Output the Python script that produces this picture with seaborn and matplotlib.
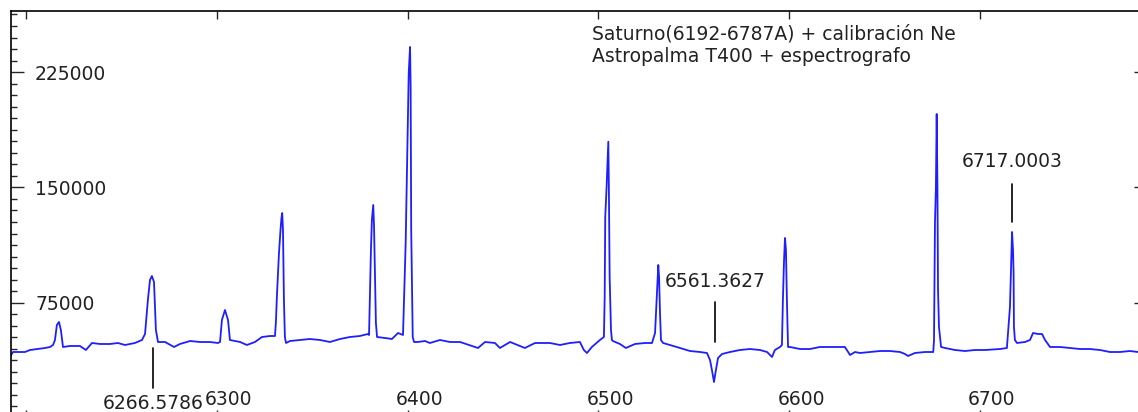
import matplotlib
matplotlib.use("Agg")
import matplotlib.pyplot as plt
import matplotlib.transforms as mtransforms
from matplotlib.ticker import MultipleLocator
import seaborn as sns
import pandas as pd

# -------------------------------
# Data (wavelength in A, counts)
# -------------------------------
wavelength = [
    6191.6, 6193.2, 6199.5, 6202.1, 6210.0, 6212.6, 6214.2, 6215.2, 6216.2, 6217.3,
    6218.3, 6219.4, 6223.1, 6228.3, 6231.4, 6234.6, 6238.8, 6244.0, 6248.2, 6251.9,
    6257.1, 6260.8, 6262.4, 6263.9, 6265.0, 6266.0, 6267.1, 6268.1, 6269.2, 6272.9,
    6277.6, 6280.7, 6286.0, 6291.2, 6296.4, 6300.6, 6301.7, 6302.7, 6304.3, 6305.9,
    6306.9, 6312.2, 6315.8, 6320.0, 6323.7, 6327.9, 6330.5, 6331.0, 6331.5, 6332.6,
    6333.4, 6333.9, 6334.3, 6334.7, 6335.2, 6335.7, 6336.3, 6338.4, 6343.6, 6348.8,
    6354.1, 6359.3, 6364.6, 6369.8, 6375.0, 6379.2, 6379.8, 6380.3, 6380.8, 6381.3,
    6382.0, 6382.4, 6382.9, 6383.4, 6384.0, 6388.2, 6391.8, 6395.0, 6397.6, 6398.1,
    6399.0, 6399.8, 6400.6, 6401.3, 6401.6, 6401.9, 6402.7, 6403.4, 6405.4, 6409.1,
    6411.7, 6417.0, 6422.2, 6427.5, 6436.9, 6440.6, 6445.8, 6448.4, 6453.7, 6461.5,
    6466.8, 6474.6, 6479.9, 6485.1, 6490.3, 6492.4, 6494.0, 6496.6, 6500.8, 6502.9,
    6503.3, 6503.6, 6504.3, 6505.2, 6505.5, 6505.9, 6506.6, 6507.1, 6507.6, 6511.3,
    6514.4, 6519.2, 6524.4, 6528.1, 6529.7, 6530.2, 6530.7, 6531.4, 6531.8, 6532.3,
    6532.8, 6533.9, 6537.5, 6542.8, 6548.0, 6553.3, 6556.9, 6558.5, 6559.5, 6560.6,
    6561.6, 6562.7, 6564.8, 6569.0, 6574.2, 6579.4, 6584.7, 6588.4, 6591.0, 6592.5,
    6595.2, 6596.2, 6596.7, 6597.3, 6597.8, 6598.3, 6598.8, 6599.4, 6600.4, 6605.7,
    6610.9, 6616.1, 6621.4, 6629.2, 6631.9, 6634.5, 6637.1, 6642.3, 6647.6, 6652.8,
    6658.1, 6660.7, 6662.3, 6665.9, 6671.2, 6675.5, 6675.9, 6676.4, 6676.9, 6677.3,
    6677.7, 6678.0, 6678.5, 6679.6, 6681.7, 6686.9, 6692.1, 6697.4, 6702.6, 6710.5,
    6714.1, 6715.7, 6716.2, 6716.8, 6717.3, 6717.6, 6717.8, 6718.3, 6719.4, 6723.6,
    6726.2, 6727.8, 6730.4, 6732.5, 6734.1, 6736.7, 6741.9, 6747.2, 6752.4, 6757.6,
    6762.9, 6768.1, 6773.4, 6778.6, 6782.8, 6787.0,
]
counts = [
    39680, 42930, 42930, 44230, 45540, 46190, 47490, 50740, 60500, 62450,
    57240, 46190, 46840, 46840, 44230, 48790, 48140, 48140, 48790, 47490,
    48790, 50740, 54640, 76760, 89770, 92370, 88470, 57240, 49440, 49440,
    46190, 48140, 50090, 49440, 49440, 48790, 49440, 63750, 70250, 63750,
    50740, 49440, 47490, 49440, 52690, 53340, 53340, 62450, 78710, 107330,
    122290, 130100, 133350, 122290, 76760, 52690, 48790, 50090, 50740, 51390,
    50740, 49440, 51390, 52690, 53340, 54640, 53990, 83260, 109280, 128800,
    138560, 125550, 94320, 61800, 52690, 52040, 51390, 55290, 53990, 74810,
    113840, 171080, 224420, 241340, 215320, 122290, 52690, 49440, 49440, 50090,
    48790, 50740, 49440, 49440, 45540, 49440, 48790, 45540, 49440, 45540,
    48790, 48790, 47490, 48790, 49440, 44230, 42280, 46190, 50740, 52690,
    78710, 130750, 150270, 179740, 149600, 91720, 57240, 50740, 50090, 48140,
    45540, 48140, 48790, 48790, 55290, 68300, 81310, 99530, 91720, 68300,
    50740, 48790, 47490, 45540, 43580, 42930, 42280, 37730, 31220, 23420,
    31220, 39030, 41630, 42930, 44230, 44880, 44230, 42930, 39680, 44230,
    46190, 47490, 76760, 102780, 117090, 109280, 76760, 46190, 46190, 44880,
    44880, 46190, 46190, 46190, 40980, 42930, 42280, 42930, 43580, 43580,
    42930, 41630, 40330, 42280, 42930, 42930, 50740, 126850, 150270, 197750,
    149600, 83260, 59200, 46190, 45540, 44230, 43580, 44230, 44230, 44880,
    45540, 72200, 94320, 121000, 109280, 94320, 59200, 50740, 48790, 49440,
    50740, 55290, 54640, 54640, 50740, 46190, 46190, 45540, 44880, 44880,
    44230, 42930, 42930, 43580, 42930, 42930,
]

x_ticks = [6200, 6300, 6400, 6500, 6600, 6700]
x_labels = ["", "6300", "6400", "6500", "6600", "6700"]
y_ticks = [0, 75000, 150000, 225000]
y_labels = ["", "75000", "150000", "225000"]

# marked lines: wavelength, label, line bottom/top (counts), label height, label below?
marks_wl = [6266.5786, 6561.3627, 6717.0003]
marks_text = ["6266.5786", "6561.3627", "6717.0003"]
marks_lo = [19500, 49440, 127500]
marks_hi = [45540, 75460, 152200]
marks_text_y = [9400, 89100, 166850]

title_lines = ["Saturno(6192-6787A) + calibración Ne", "Astropalma T400 + espectrografo"]

# -------------------------------
# Plot
# -------------------------------
sns.set_style("ticks")
plt.rcParams["font.family"] = ["DejaVu Sans"]
txt_color = "#222222"

df = pd.DataFrame({"wl": wavelength, "counts": counts})

fig = plt.figure(figsize=(11.38, 4.12), dpi=100)
# the axes run past the right and bottom edges, like the cropped original
ax = fig.add_axes([10.7 / 1138, 1 - 418 / 412, (1146 - 10.7) / 1138, 407 / 412])

sns.lineplot(data=df, x="wl", y="counts", ax=ax, color="#1e1eff", lw=1.3, sort=False)

ax.set_xlim(6192, 6787)
ax.set_ylim(0, 264750)
ax.set_xlabel("")
ax.set_ylabel("")

for side in ["top", "left", "right", "bottom"]:
    ax.spines[side].set_visible(True)
    ax.spines[side].set_color("black")
    ax.spines[side].set_linewidth(1.2)

ax.set_xticks(x_ticks, x_labels)
ax.set_yticks(y_ticks, y_labels)
ax.yaxis.set_minor_locator(MultipleLocator(7500))

ax.tick_params(axis="x", which="major", direction="in", top=True, bottom=True,
               length=6, width=1, pad=-20, labelsize=13.5, labelcolor=txt_color)
ax.tick_params(axis="y", which="major", direction="in", left=True, right=True,
               length=9, width=1, pad=-17.5, labelsize=13.5, labelcolor=txt_color)
ax.tick_params(axis="y", which="minor", direction="in", left=True, right=True,
               length=4.5, width=1)

offset = mtransforms.ScaledTranslation(12 / 100, 0, fig.dpi_scale_trans)
for lab in ax.get_xticklabels():
    lab.set_transform(lab.get_transform() + offset)
for lab in ax.get_yticklabels():
    lab.set_horizontalalignment("left")

# marked wavelengths
for wl, txt, lo, hi, ty in zip(marks_wl, marks_text, marks_lo, marks_hi, marks_text_y):
    ax.plot([wl, wl], [lo, hi], color="black", lw=1.2)
    ax.text(wl, ty, txt, ha="center", va="center", fontsize=13.5, color=txt_color)

ax.text(592 / 1138, 1 - 34 / 412, title_lines[0], transform=fig.transFigure,
        ha="left", va="center", fontsize=13.5, color=txt_color)
ax.text(592 / 1138, 1 - 57 / 412, title_lines[1], transform=fig.transFigure,
        ha="left", va="center", fontsize=13.5, color=txt_color)

fig.savefig("out.png", dpi=100, facecolor="white")
